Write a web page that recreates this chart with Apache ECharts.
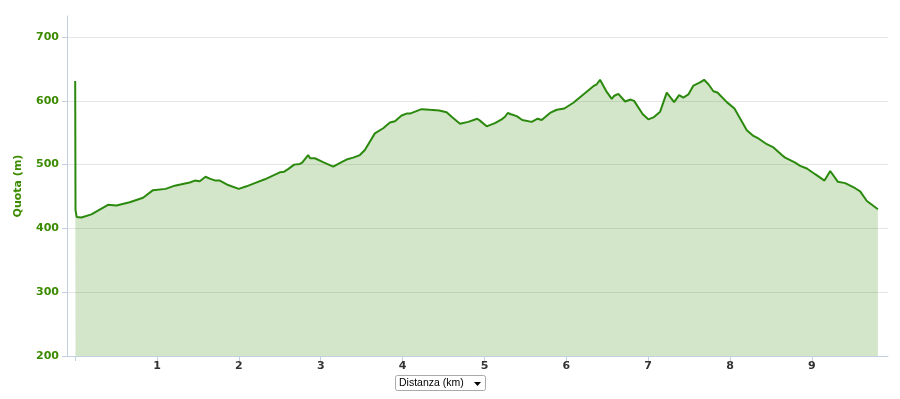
<!DOCTYPE html>
<html>
<head>
<meta charset="utf-8">
<script src="https://cdn.jsdelivr.net/npm/echarts@6/dist/echarts.min.js"></script>
<style>
html,body{margin:0;padding:0;background:#fff;}
#chart{width:900px;height:399px;}
</style>
</head>
<body>
<div id="chart"></div>
<script>
// Distance (km) along the track
var distanceKm = [
  0.000, 0.004, 0.018, 0.076, 0.198, 0.401, 0.504, 0.666, 0.829, 0.951, 1.106, 1.216, 1.400,
  1.461, 1.522, 1.592, 1.644, 1.714, 1.767, 1.868, 1.999, 2.093, 2.194, 2.317, 2.500, 2.553,
  2.601, 2.675, 2.745, 2.773, 2.846, 2.870, 2.928,
  3.029, 3.152, 3.254, 3.315, 3.396, 3.478, 3.539, 3.661, 3.763, 3.845, 3.906, 3.988, 4.049,
  4.089, 4.232, 4.333, 4.447,
  4.538, 4.599, 4.701, 4.802, 4.912, 4.945, 5.027, 5.128, 5.210, 5.251, 5.284, 5.324, 5.394,
  5.462, 5.577, 5.650, 5.699, 5.801, 5.883, 5.976,
  6.086, 6.330, 6.372, 6.412, 6.494, 6.555, 6.587, 6.636, 6.718, 6.787, 6.828, 6.934, 7.002,
  7.064, 7.146, 7.227, 7.317, 7.378, 7.430, 7.491,
  7.553, 7.634, 7.683, 7.736, 7.797, 7.846, 7.961, 8.054, 8.205, 8.286, 8.347, 8.450, 8.531,
  8.633, 8.673, 8.796,
  8.857, 8.939, 9.040, 9.154, 9.224, 9.318, 9.407, 9.529, 9.590, 9.672, 9.807
];
// Elevation (m)
var elevationM = [
  631, 429, 418, 417, 422, 437, 436, 441, 448, 460, 462, 467, 472,
  475, 474, 481, 478, 475, 475, 468, 462, 466, 471, 477, 488, 489,
  493, 500, 501, 503, 515, 510, 510,
  504, 497, 504, 508, 511, 515, 523, 549, 557, 566, 568, 577, 580,
  580, 587, 586, 585,
  582, 575, 564, 567, 572, 569, 560, 565, 571, 575, 581, 579, 576,
  570, 567, 572, 570, 581, 586, 588,
  597, 623, 626, 633, 614, 603, 608, 611, 599, 602, 600, 579, 571,
  574, 583, 613, 598, 609, 605, 610,
  624, 629, 633, 626, 615, 613, 598, 588, 554, 545, 541, 532, 527,
  515, 511, 503,
  498, 494, 485, 475, 490, 473, 471, 463, 458, 443, 430
];
var xTickValues = [0, 1, 2, 3, 4, 5, 6, 7, 8, 9];
var xLabelValues = [1, 2, 3, 4, 5, 6, 7, 8, 9];
var yTickValues = [200, 300, 400, 500, 600, 700];
var yAxisTitle = 'Quota (m)';
var xSelectorText = 'Distanza (km)';

var seriesData = distanceKm.map(function (d, i) { return [d, elevationM[i]]; });

var chart = echarts.init(document.getElementById('chart'), null, {renderer: 'canvas'});
var GREEN = '#2b8a0e';
var LABEL_GREEN = '#3b8a00';
var AXIS = '#c0d0e0';

chart.setOption({
  animation: false,
  backgroundColor: '#ffffff',
  grid: {left: 67, right: 12, top: 16, bottom: 43, containLabel: false, outerBoundsMode: 'none'},
  xAxis: {
    type: 'value',
    min: -0.1,
    max: 9.93,
    axisLine: {show: true, onZero: false, lineStyle: {color: AXIS, width: 1}},
    axisTick: {show: true, customValues: xTickValues, length: 5, lineStyle: {color: AXIS}},
    axisLabel: {
      customValues: xLabelValues,
      color: '#333333', fontWeight: 'bold', fontSize: 11,
      fontFamily: 'DejaVu Sans', margin: 5
    },
    splitLine: {show: false}
  },
  yAxis: {
    type: 'value',
    min: 200,
    max: 733,
    name: yAxisTitle,
    nameLocation: 'middle',
    nameGap: 43,
    nameTextStyle: {color: LABEL_GREEN, fontWeight: 'bold', fontSize: 11, fontFamily: 'DejaVu Sans'},
    axisLine: {show: true, onZero: false, lineStyle: {color: AXIS, width: 1}},
    axisTick: {show: true, customValues: yTickValues, length: 5, lineStyle: {color: AXIS}},
    axisLabel: {
      customValues: yTickValues,
      color: LABEL_GREEN, fontWeight: 'bold', fontSize: 11,
      fontFamily: 'DejaVu Sans', margin: 8
    },
    splitLine: {show: true, lineStyle: {color: '#e6e6e6', width: 1}}
  },
  series: [{
    type: 'line',
    data: seriesData,
    showSymbol: false,
    symbol: 'none',
    smooth: false,
    lineStyle: {color: GREEN, width: 2},
    itemStyle: {color: GREEN},
    areaStyle: {color: '#2e8b00', opacity: 0.21}
  }],
  graphic: [
    {type: 'rect', shape: {x: 395.5, y: 375.5, width: 90, height: 15, r: 2},
     style: {fill: '#ffffff', stroke: '#a9a9a9', lineWidth: 1}},
    {type: 'text', x: 399, y: 383.5,
     style: {text: xSelectorText, fill: '#000000', font: '10.5px "Liberation Sans"', verticalAlign: 'middle'}},
    {type: 'polygon', shape: {points: [[474, 382], [481, 382], [477.5, 386]]},
     style: {fill: '#000000'}}
  ]
});
</script>
</body>
</html>
